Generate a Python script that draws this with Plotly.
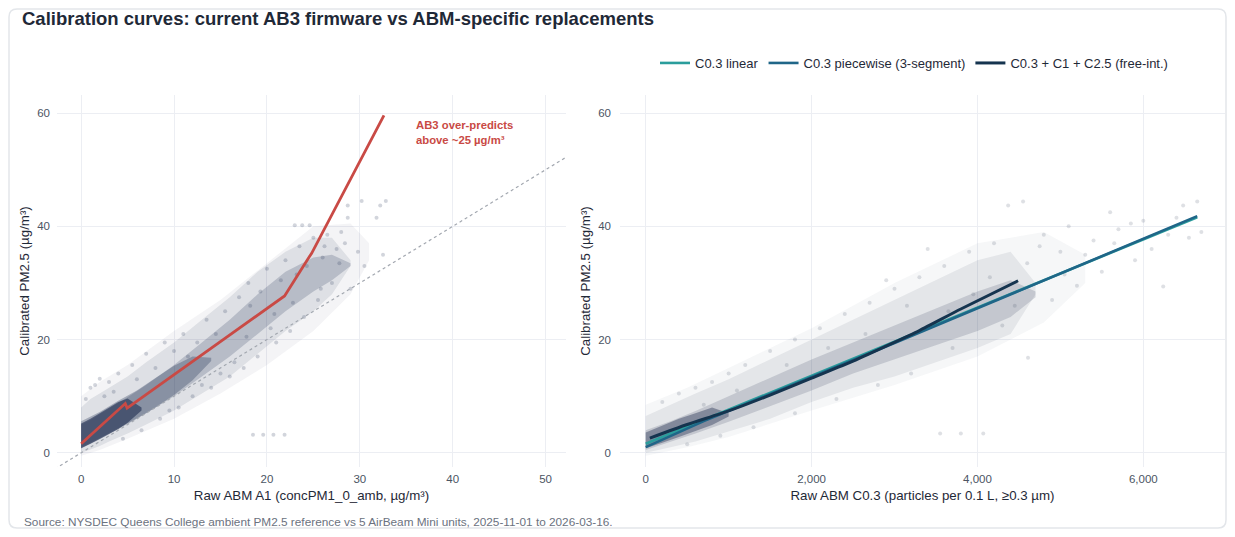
import plotly.graph_objects as go

# ---------------- data ----------------
# Left panel: AB3 firmware curve (raw A1 -> calibrated PM2.5)
ab3_x = [0, 4.75, 4.95, 21.9, 24.6, 24.8, 32.6]
ab3_y = [1.6, 8.7, 7.9, 27.7, 34.7, 35.2, 59.6]
ident = [-10, 70]

# Left panel point cloud, described as nested envelopes
L_fr_x = [0, 2, 5, 10, 15, 20, 25, 29, 31]
L_fr_lo = [-0.5, 0.5, 2.5, 6.0, 10.5, 15.5, 21.5, 28.0, 34.0]
L_fr_hi = [10.0, 12.5, 15.5, 21.5, 27.0, 33.5, 40.0, 40.5, 37.0]
L_x = [0, 1, 2, 3, 5, 7, 10, 13, 16, 19, 22, 25, 27, 29]
L_core_lo = [1.0, 1.8, 2.6, 3.4, 5.2, 7.0, 10.0, 13.5, 17.0, 21.0, 25.0, 28.5, 30.5, 33.0]
L_core_hi = [5.0, 5.8, 6.8, 7.8, 9.8, 12.0, 15.5, 19.5, 23.5, 28.0, 32.0, 34.5, 35.0, 33.5]
L_halo_lo = [0.0, 0.6, 1.2, 2.0, 3.4, 5.0, 7.5, 10.5, 13.5, 17.5, 21.5, 25.0, 28.0, 33.0]
L_halo_hi = [8.0, 9.5, 10.5, 11.5, 13.5, 16.0, 19.5, 23.5, 27.5, 32.0, 35.5, 38.0, 38.0, 34.0]
L_mid_x = [0, 2, 4, 6, 8, 10, 12, 14]
L_mid_lo = [0.8, 2.4, 4.2, 6.0, 8.0, 10.2, 12.8, 16.2]
L_mid_hi = [5.6, 7.2, 9.2, 11.0, 13.2, 15.4, 17.0, 16.8]
L_dense_x = [0, 1, 2, 3, 4, 5, 6.5]
L_dense_lo = [0.8, 1.6, 2.4, 3.3, 4.2, 5.3, 7.5]
L_dense_hi = [5.2, 6.0, 7.0, 8.0, 9.0, 9.6, 8.0]
L_pts_x = [1.0, 2.0, 1.5, 3.0, 4.0, 5.5, 7.0, 6.5, 8.5, 9.0, 10.5, 11.0, 12.0, 13.5, 14.0,
           15.5, 16.0, 17.0, 17.5, 18.5, 19.6, 20.7, 21.9, 18.0, 19.0, 20.0, 21.0, 22.0,
           23.0, 23.8, 24.6, 22.5, 23.5, 24.0, 25.0, 25.5, 26.0, 26.5, 27.0, 27.5, 28.0,
           28.7, 28.7, 29.8, 30.2, 31.8, 32.2, 32.8, 32.5, 30.5, 29.0,
           0.5, 2.5, 3.5, 4.5, 6.0, 8.0, 9.5, 11.5, 12.5, 14.5, 15.0, 16.5, 18.2, 19.3, 20.4,
           21.5, 22.8, 24.3, 26.2, 27.8, 28.4, 10.0, 13.0, 17.8, 20.8, 23.2, 25.8]
L_pts_y = [11.5, 13.1, 12.0, 12.5, 14.0, 15.5, 17.5, 4.0, 6.0, 19.5, 8.0, 21.0, 10.0, 23.5, 11.5,
           25.0, 13.5, 27.5, 15.0, 3.2, 3.2, 3.2, 3.2, 30.0, 17.0, 32.5, 19.5, 34.0,
           40.2, 40.2, 40.2, 21.5, 36.5, 24.0, 38.0, 27.0, 34.5, 38.5, 30.0, 36.0, 39.0,
           41.5, 43.7, 35.5, 44.5, 41.5, 43.7, 44.5, 35.0, 33.0, 29.0,
           9.5, 10.0, 10.8, 2.5, 13.0, 15.0, 7.5, 17.0, 19.5, 21.0, 14.0, 16.0, 26.0, 28.5, 22.0,
           30.5, 26.5, 33.0, 36.5, 33.5, 37.0, 18.0, 12.0, 20.5, 24.5, 31.5, 29.0]

# Right panel: ABM-specific replacement curves (raw C0.3 -> calibrated PM2.5)
lin_x = [0, 6650]
lin_y = [1.6, 41.6]
pw_x = [0, 700, 3000, 6650]
pw_y = [1.0, 5.6, 19.4, 41.8]
fi_x = [50, 500, 1000, 1500, 2000, 2500, 2950, 3300, 3800, 4490]
fi_y = [2.6, 5.0, 7.4, 10.2, 13.2, 16.2, 19.2, 21.6, 25.4, 30.4]

R_fr_x = [0, 500, 1000, 2000, 3000, 4000, 4800, 5300]
R_fr_lo = [-0.5, 1.0, 2.8, 7.5, 12.0, 17.0, 23.0, 30.0]
R_fr_hi = [8.5, 11.5, 15.0, 22.0, 30.0, 37.0, 39.0, 35.0]
R_x = [0, 300, 600, 1000, 1500, 2000, 2500, 3000, 3500, 4000, 4400, 4700]
R_core_lo = [0.5, 2.0, 3.4, 5.5, 8.2, 11.0, 14.0, 16.5, 19.0, 21.5, 24.0, 27.5]
R_core_hi = [4.0, 5.6, 7.4, 10.0, 13.3, 16.5, 19.5, 22.5, 25.5, 28.5, 30.5, 28.5]
R_halo_lo = [0.0, 1.0, 2.0, 3.8, 6.0, 9.0, 11.5, 13.5, 16.0, 18.5, 21.0, 28.0]
R_halo_hi = [6.5, 8.5, 10.5, 13.0, 16.5, 20.0, 23.5, 27.0, 30.5, 34.0, 35.5, 30.0]
R_dense_x = [0, 200, 400, 600, 800, 1000]
R_dense_lo = [0.8, 1.8, 2.8, 3.8, 4.9, 6.4]
R_dense_hi = [3.6, 4.8, 6.0, 7.0, 8.0, 7.0]
R_pts_x = [200, 400, 600, 800, 1000, 1200, 1500, 1800, 2100, 2400, 2700, 3000, 3300, 3600,
           3900, 4200, 4370, 4550, 4800, 5100, 5400, 5700, 6000, 6240, 6300, 6480, 6650, 6700,
           5900, 5500, 5200, 4900, 4610, 3550, 3800, 4070, 4300, 3700, 3200, 2800, 2300, 1800,
           1300, 900, 500, 3400, 2900, 6100, 5600, 5000,
           4600, 4750, 5050, 5300, 5650, 5850, 6400, 6550, 4450, 4150, 3950, 3650, 3150, 2650,
           2200, 1700, 1100, 700]
R_pts_y = [9.0, 10.5, 11.5, 12.5, 14.0, 15.5, 18.0, 20.0, 22.0, 24.5, 26.5, 29.0, 31.0, 33.0,
           35.5, 37.0, 43.7, 44.4, 38.5, 40.0, 37.5, 39.5, 41.0, 29.4, 38.5, 43.7, 44.4, 39.0,
           34.0, 32.0, 29.5, 27.0, 16.8, 3.4, 3.4, 3.4, 22.5, 18.5, 14.0, 12.0, 9.5, 7.0,
           4.5, 3.0, 1.5, 36.0, 30.5, 36.0, 42.5, 35.5,
           33.5, 36.5, 31.5, 35.0, 37.0, 40.5, 41.5, 38.0, 26.0, 31.0, 28.0, 25.0, 26.0, 21.0,
           18.5, 15.5, 11.0, 8.5]

# ---------------- styling ----------------
W, H = 1219, 521          # page adds an 8 px body margin
OFF = 8                   # reference pixel -> figure pixel offset
FONT = "Liberation Sans, Arial, sans-serif"
NAVY = "31,45,80"
GREY = "52,62,90"
RED = "#c94a45"
C_LIN = "#2a9d9c"
C_PW = "#1f6688"
C_FI = "#15344f"


def px(xp):
    return (xp - OFF) / W


def py(yp):
    return 1 - (yp - OFF) / H


def band(x, lo, hi, rgb, alpha, xa, ya):
    return go.Scatter(
        x=list(x) + list(x)[::-1], y=list(hi) + list(lo)[::-1],
        fill="toself", fillcolor=f"rgba({rgb},{alpha})", mode="lines",
        line=dict(width=0),
        hoverinfo="skip", showlegend=False, xaxis=xa, yaxis=ya)


fig = go.Figure()

# left panel cloud
fig.add_trace(band(L_fr_x, L_fr_lo, L_fr_hi, NAVY, 0.05, "x", "y"))
fig.add_trace(band(L_x, L_halo_lo, L_halo_hi, NAVY, 0.10, "x", "y"))
fig.add_trace(band(L_x, L_core_lo, L_core_hi, NAVY, 0.2, "x", "y"))
fig.add_trace(band(L_mid_x, L_mid_lo, L_mid_hi, NAVY, 0.3, "x", "y"))
fig.add_trace(band(L_dense_x, L_dense_lo, L_dense_hi, NAVY, 0.6, "x", "y"))
fig.add_trace(go.Scatter(x=L_pts_x, y=L_pts_y, mode="markers",
                         marker=dict(size=4, color=f"rgba({NAVY},0.2)"),
                         showlegend=False, hoverinfo="skip", xaxis="x", yaxis="y"))
fig.add_trace(go.Scatter(x=ident, y=ident, mode="lines",
                         line=dict(color="#a3a8b0", width=1.2, dash="dot"),
                         showlegend=False, hoverinfo="skip", xaxis="x", yaxis="y"))
fig.add_trace(go.Scatter(x=ab3_x, y=ab3_y, mode="lines",
                         line=dict(color=RED, width=2.8),
                         showlegend=False, name="AB3 firmware", xaxis="x", yaxis="y"))

# right panel cloud
fig.add_trace(band(R_fr_x, R_fr_lo, R_fr_hi, GREY, 0.045, "x2", "y2"))
fig.add_trace(band(R_x, R_halo_lo, R_halo_hi, GREY, 0.09, "x2", "y2"))
fig.add_trace(band(R_x, R_core_lo, R_core_hi, GREY, 0.18, "x2", "y2"))
fig.add_trace(band(R_dense_x, R_dense_lo, R_dense_hi, GREY, 0.45, "x2", "y2"))
fig.add_trace(go.Scatter(x=R_pts_x, y=R_pts_y, mode="markers",
                         marker=dict(size=4, color=f"rgba({GREY},0.16)"),
                         showlegend=False, hoverinfo="skip", xaxis="x2", yaxis="y2"))
fig.add_trace(go.Scatter(x=lin_x, y=lin_y, mode="lines", name="C0.3 linear",
                         line=dict(color=C_LIN, width=2.6), xaxis="x2", yaxis="y2"))
fig.add_trace(go.Scatter(x=pw_x, y=pw_y, mode="lines", name="C0.3 piecewise (3-segment)",
                         line=dict(color=C_PW, width=2.6), xaxis="x2", yaxis="y2"))
fig.add_trace(go.Scatter(x=fi_x, y=fi_y, mode="lines", name="C0.3 + C1 + C2.5 (free-int.)",
                         line=dict(color=C_FI, width=3, shape="spline", smoothing=0.6),
                         xaxis="x2", yaxis="y2"))

axis_common = dict(showgrid=True, gridcolor="#eceef3", gridwidth=1, zeroline=False,
                   showline=False, ticks="", automargin=False,
                   tickfont=dict(size=11.5, color="#4b5563", family=FONT),
                   title_font=dict(size=13.3, color="#1f2937", family=FONT))

y_top = py(95)
y_bot = py(467)

fig.update_layout(
    width=W, height=H,
    margin=dict(l=0, r=0, t=0, b=0),
    paper_bgcolor="white", plot_bgcolor="white",
    font=dict(family=FONT, color="#1f2937"),
    title=dict(text="<b>Calibration curves: current AB3 firmware vs ABM-specific replacements</b>",
               x=px(22), xref="container", xanchor="left",
               y=py(19), yref="container", yanchor="middle",
               font=dict(size=18.5, color="#1f2937", family=FONT)),
    xaxis=dict(domain=[px(57), px(566)], range=[-2.6, 52.2], dtick=10,
               title=dict(text="Raw ABM A1 (concPM1_0_amb, µg/m³)", standoff=7), anchor="y",
               ticklabelstandoff=3, **axis_common),
    yaxis=dict(domain=[y_bot, y_top], range=[-2.5, 63.2], dtick=20,
               title=dict(text="Calibrated PM2.5 (µg/m³)", standoff=4), anchor="x",
               ticklabelstandoff=6, **axis_common),
    xaxis2=dict(domain=[px(620), px(1225)], range=[-310, 6985], dtick=2000, tickformat=",d",
                title=dict(text="Raw ABM C0.3 (particles per 0.1 L, ≥0.3 µm)", standoff=7),
                anchor="y2", ticklabelstandoff=3, **axis_common),
    yaxis2=dict(domain=[y_bot, y_top], range=[-2.5, 63.2], dtick=20,
                title=dict(text="Calibrated PM2.5 (µg/m³)", standoff=4), anchor="x2",
                ticklabelstandoff=8, **axis_common),
    legend=dict(orientation="h", x=px(1173), xanchor="right", y=py(63), yanchor="middle",
                font=dict(size=13, color="#1f2937", family=FONT),
                bgcolor="rgba(0,0,0,0)", itemwidth=30, tracegroupgap=0),
    showlegend=True,
)

fig.add_annotation(x=35.8, y=56.5, xref="x", yref="y", xanchor="left", yanchor="middle",
                   align="left", showarrow=False,
                   text="<b>AB3 over-predicts<br>above ~25 µg/m³</b>",
                   font=dict(size=11.3, color=RED, family=FONT))

fig.add_annotation(x=px(22), y=py(522), xref="paper", yref="paper",
                   xanchor="left", yanchor="middle", showarrow=False,
                   text="Source: NYSDEC Queens College ambient PM2.5 reference vs 5 AirBeam Mini units, 2025-11-01 to 2026-03-16.",
                   font=dict(size=11.8, color="#6b7280", family=FONT))

# rounded outer border (paper coords)
x0, x1 = 1 / W, 1 - 1 / W
y0, y1 = 1 / H, 1 - 1 / H
rx, ry = 8 / W, 8 / H
path = (f"M {x0+rx} {y1} L {x1-rx} {y1} Q {x1} {y1} {x1} {y1-ry} "
        f"L {x1} {y0+ry} Q {x1} {y0} {x1-rx} {y0} L {x0+rx} {y0} "
        f"Q {x0} {y0} {x0} {y0+ry} L {x0} {y1-ry} Q {x0} {y1} {x0+rx} {y1} Z")
fig.add_shape(type="path", path=path, xref="paper", yref="paper",
              line=dict(color="#e3e6ea", width=1.5), fillcolor="rgba(0,0,0,0)", layer="below")

fig.write_html("out.html")
